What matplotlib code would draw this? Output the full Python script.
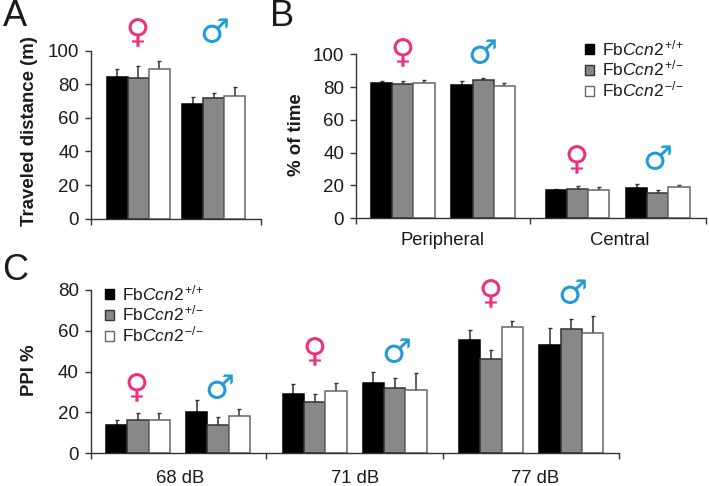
import matplotlib
matplotlib.use("Agg")
import matplotlib.pyplot as plt
import matplotlib.patheffects as pe
import numpy as np
from matplotlib.patches import Patch

plt.rcParams["font.family"] = ["Liberation Sans", "DejaVu Sans"]
plt.rcParams["mathtext.fontset"] = "custom"
plt.rcParams["mathtext.rm"] = "Liberation Sans"
plt.rcParams["mathtext.it"] = "Liberation Sans:italic"
plt.rcParams["mathtext.default"] = "regular"

W, H = 709, 486

GENOTYPES = [
    r"Fb$\mathit{Ccn2}$$^{\,{+}/{+}}$",
    r"Fb$\mathit{Ccn2}$$^{\,{+}/{-}}$",
    r"Fb$\mathit{Ccn2}$$^{\,{-}/{-}}$",
]

# values: one row per sex/condition group, three genotypes in each
dist_means = [[84.5, 84.0, 89.0], [68.4, 71.8, 72.8]]
dist_errs = [[4.8, 6.8, 4.8], [4.2, 3.0, 5.6]]

time_labels = ["Peripheral", "Central"]
time_means = [[82.6, 81.6, 82.4], [81.3, 84.0, 80.8], [16.8, 17.8, 17.0], [18.1, 15.3, 18.8]]
time_errs = [[1.2, 2.2, 1.7], [2.6, 1.8, 1.5], [1.2, 2.0, 1.8], [2.7, 1.5, 1.4]]

ppi_labels = ["68 dB", "71 dB", "77 dB"]
ppi_means = [
    [13.8, 16.1, 16.4], [20.3, 14.0, 18.3],
    [29.1, 25.1, 30.5], [34.3, 31.8, 31.1],
    [55.2, 46.1, 61.7], [53.1, 60.7, 58.8],
]
ppi_errs = [
    [2.5, 3.7, 3.4], [5.9, 3.6, 3.5],
    [4.6, 4.0, 4.0], [5.7, 5.1, 8.1],
    [5.3, 4.3, 3.2], [8.1, 4.9, 8.3],
]

FILLS = ["#000000", "#888888", "#ffffff"]
EDGES = ["#000000", "#333333", "#666666"]
PINK = "#ee2f7f"
BLUE = "#1f9bd8"
AXC = "#333333"
TXT = "#1a1a1a"


def make_axes(fig, left, right, top, bottom):
    # pixel box of the reference -> figure fractions, x data stays in pixels
    ax = fig.add_axes([left / W, 1 - bottom / H, (right - left) / W, (bottom - top) / H])
    ax.set_xlim(0, right - left)
    for s in ["top", "right"]:
        ax.spines[s].set_visible(False)
    for s in ["left", "bottom"]:
        ax.spines[s].set_color(AXC)
        ax.spines[s].set_linewidth(1.0)
    ax.tick_params(axis="y", length=4.5, width=1, color=AXC, labelsize=13.5, labelcolor=TXT, pad=4)
    ax.tick_params(axis="x", which="major", length=4, width=1, color=AXC, labelbottom=False)
    ax.tick_params(axis="x", which="minor", length=0, labelsize=13.3, labelcolor=TXT)
    return ax


def draw_bars(ax, means, errs, starts, width):
    for start, m, e in zip(starts, means, errs):
        for i in range(3):
            ax.bar(
                start + i * width, m[i], width, align="edge",
                color=FILLS[i], edgecolor=EDGES[i], linewidth=1.1, zorder=2,
            )
            ax.errorbar(
                start + (i + 0.5) * width, m[i], yerr=[[0], [e[i]]],
                color="#333333", elinewidth=1.1, capsize=1.2, capthick=1, zorder=1,
            )


def sex_mark(fig, x, y, female=True):
    t = fig.text(
        x / W, 1 - y / H, "\u2640" if female else "\u2642",
        color=PINK if female else BLUE, fontsize=24, ha="center", va="center",
        family="DejaVu Sans",
    )
    # the symbols in the figure are thinner than the DejaVu glyphs
    t.set_path_effects([pe.withStroke(linewidth=0.5, foreground="white")])


def legend(ax, x, y):
    handles = [Patch(facecolor=f, edgecolor=e, linewidth=1) for f, e in zip(FILLS, EDGES)]
    ax.legend(
        handles, GENOTYPES, loc="upper left", bbox_to_anchor=(x / W, 1 - y / H),
        bbox_transform=ax.figure.transFigure, frameon=False, fontsize=12.5,
        handlelength=0.52, handleheight=0.52, handletextpad=0.46,
        labelspacing=0.06, borderpad=0, borderaxespad=0, labelcolor=TXT,
    )


fig = plt.figure(figsize=(W / 100, H / 100), dpi=100)

# A
ax_a = make_axes(fig, 91, 261, 50.7, 218.7)
draw_bars(ax_a, dist_means, dist_errs, [15.7, 91.3], 21)
ax_a.set_ylim(0, 100)
ax_a.set_yticks(np.arange(0, 101, 20))
ax_a.set_xticks([0, 170])
ax_a.set_ylabel("Traveled distance (m)", fontsize=13.4, fontweight="bold", color=TXT)
ax_a.yaxis.set_label_coords((38 - 91) / 170, 0.52)

# B
ax_b = make_axes(fig, 356, 706, 54.3, 218)
draw_bars(ax_b, time_means, time_errs, [15, 95.3, 189.7, 270], 21.2)
ax_b.set_ylim(0, 100)
ax_b.set_yticks(np.arange(0, 101, 20))
ax_b.set_xticks([0, 174, 350])
ax_b.set_xticks([87, 264], labels=time_labels, minor=True)
ax_b.tick_params(axis="x", which="minor", pad=10)
ax_b.set_ylabel("% of time", fontsize=13.4, fontweight="bold", color=TXT)
ax_b.yaxis.set_label_coords((305 - 356) / 350, 0.51)
legend(ax_b, 585, 38)

# C
ax_c = make_axes(fig, 90.7, 618.7, 289.7, 453.3)
draw_bars(ax_c, ppi_means, ppi_errs, [15.3, 95.3, 192, 272, 368.3, 448.6], 21.3)
ax_c.set_ylim(0, 80)
ax_c.set_yticks(np.arange(0, 81, 20))
ax_c.set_xticks([0, 175.3, 352, 528])
ax_c.set_xticks([89.5, 264.5, 444], labels=ppi_labels, minor=True)
ax_c.tick_params(axis="x", which="minor", pad=12)
ax_c.set_ylabel("PPI %", fontsize=13.4, fontweight="bold", color=TXT)
ax_c.yaxis.set_label_coords((38 - 90.7) / 528, 0.51)
legend(ax_c, 105, 283)

for x, y, f in [
    (138, 33, True), (215, 33, False),
    (403, 53, True), (483, 54, False), (577, 160, True), (658, 160, False),
    (137, 388, True), (220, 389, False), (315, 352, True), (397, 353, False),
    (491, 294, True), (573, 294, False),
]:
    sex_mark(fig, x, y, f)

for letter, x, y in [("A", 3, 17), ("B", 270, 17), ("C", 2, 271)]:
    fig.text(x / W, 1 - y / H, letter, fontsize=26, color=TXT, ha="left", va="center")

fig.savefig("out.png", dpi=100)
